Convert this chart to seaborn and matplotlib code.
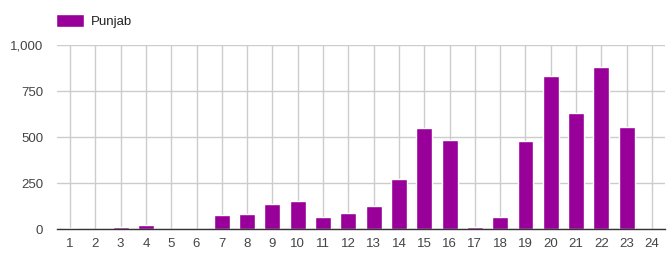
import matplotlib
matplotlib.use("Agg")
import matplotlib.pyplot as plt
import seaborn as sns
import pandas as pd
from matplotlib.patches import Patch
from matplotlib.ticker import FuncFormatter

categories = [str(i) for i in range(1, 25)]
punjab = [5, 0, 12, 25, 0, 0, 80, 85, 140, 156, 69, 90, 129, 272, 549, 484,
          13, 69, 478, 831, 630, 880, 554, 0]
yticks = [0, 250, 500, 750, 1000]

sns.set_theme(style="white")
plt.rcParams['font.family'] = ['Liberation Sans', 'DejaVu Sans']

df = pd.DataFrame({"hour": categories, "Punjab": punjab})

fig = plt.figure(figsize=(6.7, 2.65), dpi=100)
ax = fig.add_axes([57/670, 1 - 229.3/265, (665 - 57)/670, (229.3 - 45.3)/265])

color = "#990099"
sns.barplot(data=df, x="hour", y="Punjab", color=color, width=0.63,
            saturation=1, ax=ax, zorder=3)

ax.set_xlim(-0.514, 23.514)
ax.set_ylim(0, 1000)
ax.set_yticks(yticks)
ax.yaxis.set_major_formatter(FuncFormatter(lambda v, p: f"{int(v):,}"))
ax.grid(True, axis="both", color="#cccccc", linewidth=1, zorder=0)
ax.set_axisbelow(True)
for s in ["top", "right", "left"]:
    ax.spines[s].set_visible(False)
ax.spines["bottom"].set_color("#333333")
ax.spines["bottom"].set_linewidth(1.0)
ax.spines["bottom"].set_zorder(4)
ax.set_xlabel("")
ax.set_ylabel("")
ax.tick_params(axis="both", length=0, labelsize=9.5, colors="#444444")
ax.tick_params(axis="x", pad=6)
ax.tick_params(axis="y", pad=10)

leg = fig.legend(handles=[Patch(facecolor=color, label="Punjab")],
                 loc="upper left", bbox_to_anchor=(51/670, 1 - 9/265),
                 frameon=False, fontsize=9.5, handlelength=2.1, handleheight=1.1,
                 handletextpad=0.5, borderaxespad=0)
for t in leg.get_texts():
    t.set_color("#222222")

fig.savefig("out.png", dpi=100)
